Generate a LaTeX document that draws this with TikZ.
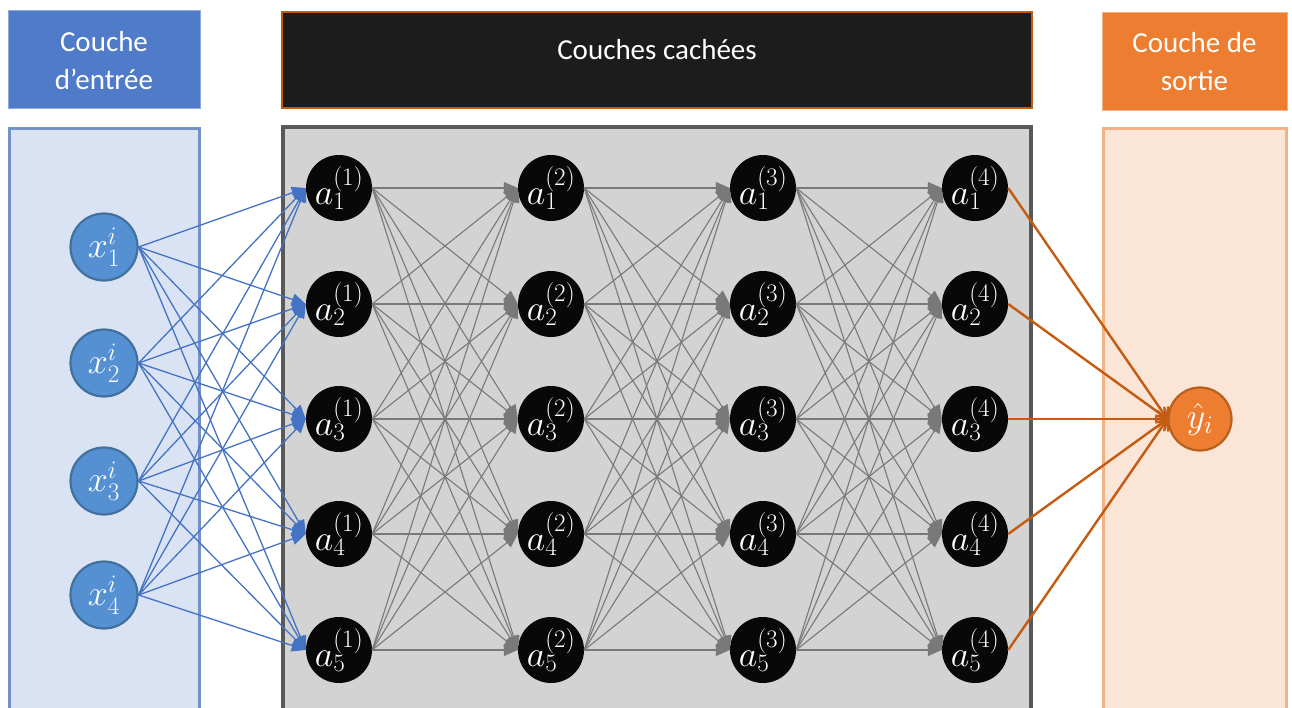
\RequirePackage{fix-cm}
\documentclass[tikz,border=0pt]{standalone}
\usepackage{fontspec}
\setmainfont{Carlito}
\usetikzlibrary{arrows.meta}

\definecolor{inhead}{HTML}{4F7BC8}
\definecolor{inheadline}{HTML}{8FAADC}
\definecolor{inpanel}{HTML}{DAE3F3}
\definecolor{inpanelline}{HTML}{7391C6}
\definecolor{innodefill}{HTML}{5590D2}
\definecolor{innodeline}{HTML}{41719C}
\definecolor{inedge}{HTML}{4472C4}
\definecolor{hidhead}{HTML}{1C1C1C}
\definecolor{hidheadline}{HTML}{C55A11}
\definecolor{hidpanel}{HTML}{D3D3D3}
\definecolor{hidpanelline}{HTML}{595959}
\definecolor{hidedge}{HTML}{7B7878}
\definecolor{outhead}{HTML}{ED7D31}
\definecolor{outheadline}{HTML}{F4B183}
\definecolor{outpanel}{HTML}{FBE5D6}
\definecolor{outpanelline}{HTML}{F4B183}
\definecolor{outnodeline}{HTML}{B8611F}
\definecolor{outedge}{HTML}{C55A11}

\tikzset{
  headbox/.style={line width=1pt},
  headtext/.style={text=white, font=\fontsize{29}{38}\selectfont, align=center},
  mathtext/.style={text=white, font=\fontsize{36}{38}\selectfont},
  innode/.style={circle, minimum size=67pt, inner sep=0pt, fill=innodefill,
    draw=innodeline, line width=2.2pt, mathtext},
  hidnode/.style={circle, minimum size=66pt, inner sep=0pt, fill=black!97, mathtext},
  outnode/.style={circle, minimum size=63pt, inner sep=0pt, fill=outhead,
    draw=outnodeline, line width=2.2pt, mathtext},
  inarrow/.style={draw=inedge, line width=1.3pt,
    -{Triangle[length=14pt,width=12pt]}},
  hidarrow/.style={draw=hidedge, line width=1.1pt,
    -{Triangle[length=14pt,width=12pt]}},
  outarrow/.style={draw=outedge, line width=2.4pt,
    -{Straight Barb[length=8pt,width=16pt]}},
}

\begin{document}
\begin{tikzpicture}[x=1pt,y=-1pt]
\path[use as bounding box, clip] (0,0) rectangle (1292,707);

% header boxes
\draw[headbox, fill=inhead, draw=inheadline] (8,10) rectangle (200,108);
\node[headtext] (hin) at (104,61) {Couche\\d’entrée};
\draw[headbox, fill=hidhead, draw=hidheadline, line width=1.5pt] (282,12) rectangle (1032,108);
\node[headtext] (hhid) at (657,50) {Couches cachées};
\draw[headbox, fill=outhead, draw=outheadline] (1102,12) rectangle (1287,110);
\node[headtext] (hout) at (1194.5,62) {Couche de\\sortie};

% layer panels (running past the lower edge)
\draw[fill=inpanel, draw=inpanelline, line width=3pt] (9,128) rectangle (199,740);
\draw[fill=hidpanel, draw=hidpanelline, line width=3.5pt] (283,127) rectangle (1031,740);
\draw[fill=outpanel, draw=outpanelline, line width=3pt] (1103,128) rectangle (1286,740);

% neurons
\foreach \i/\y in {1/247,2/363,3/481,4/595}
  \node[innode] (x\i) at (104,\y) {$x_{\i}^{i}$};
\foreach \c/\x in {1/339,2/551,3/763,4/975}
  \foreach \r/\y in {1/188,2/304,3/419,4/534,5/650}
    \node[hidnode] (a\c\r) at (\x,\y) {$a_{\r}^{(\c)}$};
\node[outnode] (yhat) at (1200,419) {$\hat{y}_i$};

% connections
\foreach \i in {1,...,4}
  \foreach \r in {1,...,5}
    \draw[inarrow] (x\i.east) -- (a1\r.west);
\foreach \c/\n in {1/2,2/3,3/4}
  \foreach \r in {1,...,5}
    \foreach \s in {1,...,5}
      \draw[hidarrow] (a\c\r.east) -- (a\n\s.west);
\foreach \r in {1,...,5}
  \draw[outarrow] (a4\r.east) -- (yhat.west);
\end{tikzpicture}
\end{document}
